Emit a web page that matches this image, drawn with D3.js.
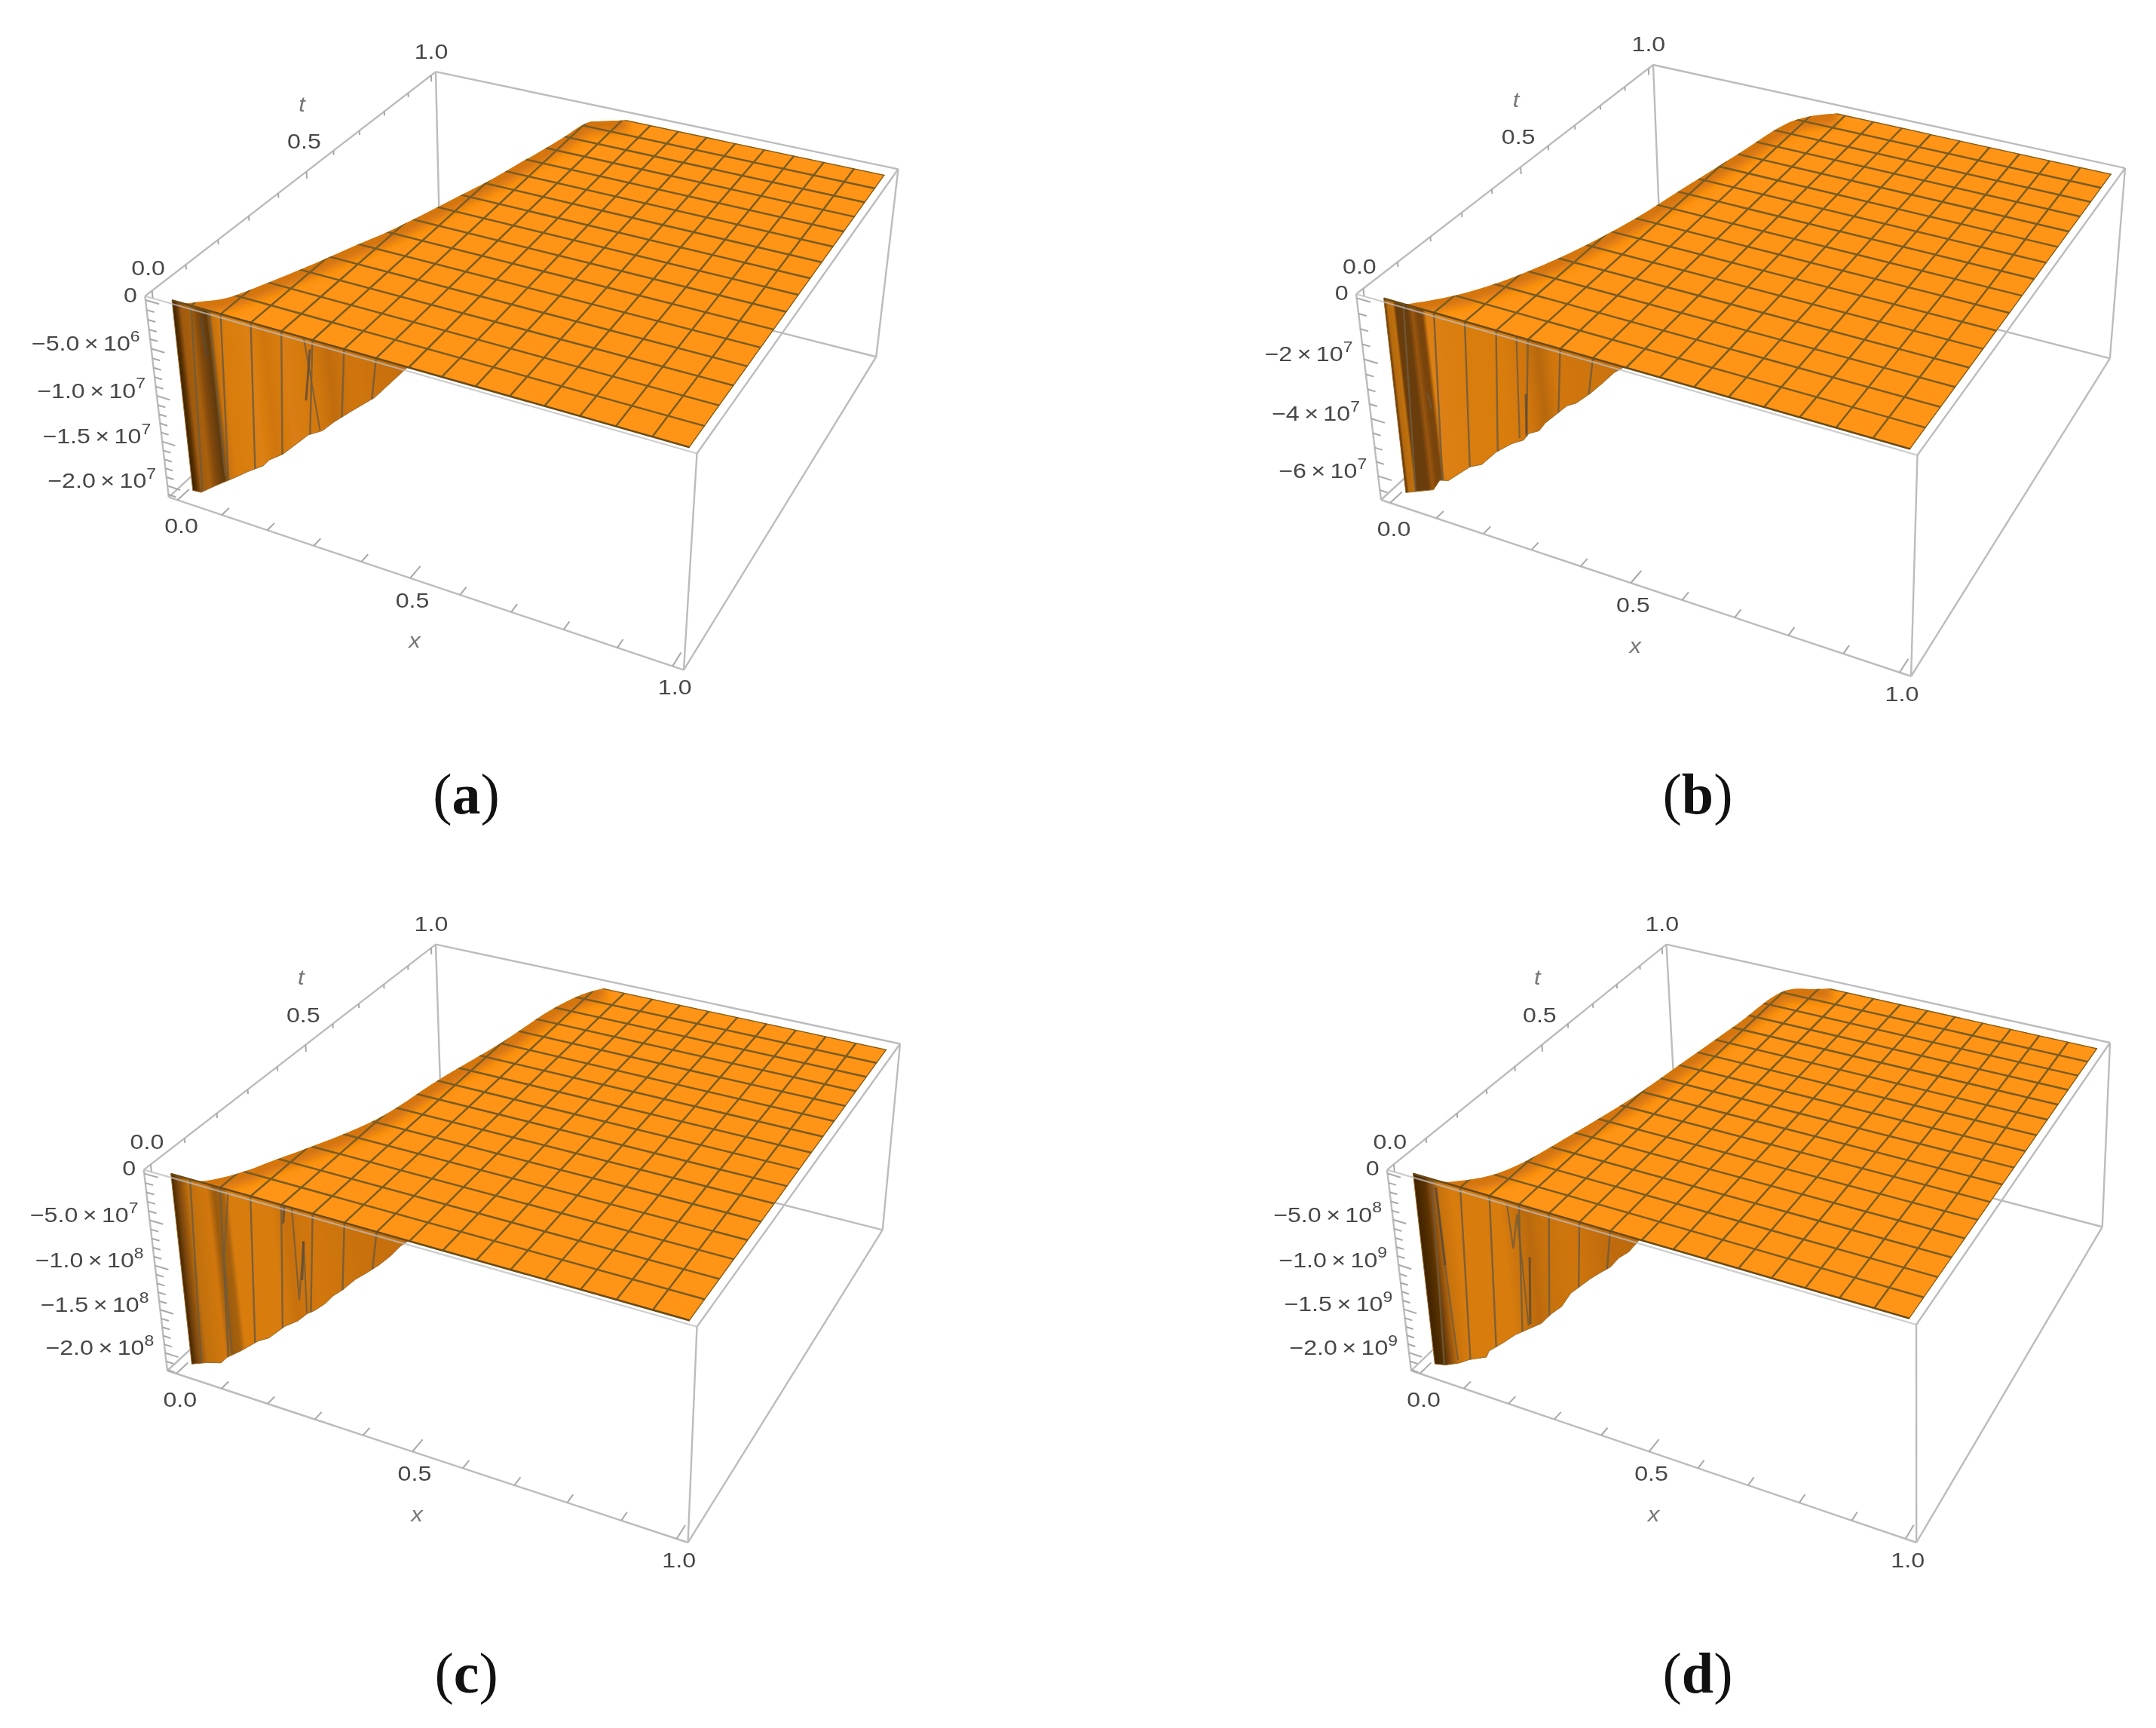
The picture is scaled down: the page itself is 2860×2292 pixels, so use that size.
<!DOCTYPE html>
<html><head><meta charset="utf-8">
<style>html,body{margin:0;padding:0;background:#fff}svg{display:block}</style>
<script src="https://cdnjs.cloudflare.com/ajax/libs/d3/7.8.5/d3.min.js"></script>
</head><body><svg id="c" width="2860" height="2292"></svg>
<script>
// ---------- DATA ----------
const axisTicks = [0, 0.5, 1];
const axisMinor = [0.1, 0.2, 0.3, 0.4, 0.6, 0.7, 0.8, 0.9];
const axisLabels = ["0.0", "0.5", "1.0"];
const meshCount = 16;

const captions = ["a", "b", "c", "d"];

const zDomainA = [4e5, -2.13e7];
const zDomainB = [1.3e6, -6.85e7];
const zDomainC = [4e6, -2.21e8];
const zDomainD = [4e7, -2.21e9];

const zTicksA = [-5e6, -1e7, -1.5e7, -2e7];
const zTicksB = [-2e7, -4e7, -6e7];
const zTicksC = [-5e7, -1e8, -1.5e8, -2e8];
const zTicksD = [-5e8, -1e9, -1.5e9, -2e9];
const zLabelA = [["−5.0","6"],["−1.0","7"],["−1.5","7"],["−2.0","7"]];
const zLabelB = [["−2","7"],["−4","7"],["−6","7"]];
const zLabelC = [["−5.0","7"],["−1.0","8"],["−1.5","8"],["−2.0","8"]];
const zLabelD = [["−5.0","8"],["−1.0","9"],["−1.5","9"],["−2.0","9"]];
const zMinorStepA = 1e6, zMinorStepB = 5e6, zMinorStepC = 1e7, zMinorStepD = 1e8;

// lower edge of the cliff at t = 0
const wallXA = [.022,.041,.075,.119,.153,.188,.203,.233,.266,.291,.321,.346,.381,.431,.498];
const wallZA = [-2.05e7,-2.04e7,-1.91e7,-1.75e7,-1.62e7,-1.50e7,-1.41e7,-1.30e7,-1.13e7,-1.0e7,-.91e7,-.78e7,-.62e7,-.40e7,0];
const wallXB = [.022,.085,.101,.12,.149,.17,.196,.228,.262,.288,.30,.321,.335,.381,.399,.428,.452,.477,.496];
const wallZB = [-6.58e7,-6.14e7,-5.72e7,-5.63e7,-5.2e7,-4.89e7,-4.67e7,-4.09e7,-3.63e7,-3.37e7,-3.09e7,-2.9e7,-2.57e7,-1.78e7,-1.61e7,-1.16e7,-.73e7,-.26e7,0];
const wallXC = [.022,.058,.089,.104,.136,.176,.201,.237,.266,.286,.304,.326,.343,.362,.39,.412,.439,.464,.482,.498];
const wallZC = [-2.13e8,-2.05e8,-2.0e8,-1.91e8,-1.78e8,-1.6e8,-1.52e8,-1.33e8,-1.22e8,-1.11e8,-1.04e8,-.93e8,-.82e8,-.73e8,-.57e8,-.47e8,-.34e8,-.2e8,-.08e8,0];
const wallXD = [.022,.047,.08,.104,.145,.152,.188,.215,.247,.276,.299,.323,.345,.39,.41,.433,.451,.473,.496];
const wallZD = [-2.13e9,-2.1e9,-2.02e9,-1.94e9,-1.84e9,-1.76e9,-1.6e9,-1.47e9,-1.35e9,-1.24e9,-1.1e9,-.98e9,-.8e9,-.57e9,-.48e9,-.38e9,-.26e9,-.16e9,0];

// crest of the surface: x reached at each t
const ridgeTA = [0,0,.019,.049,.117,.213,.308,.374,.435,.499,.565,.631,.709,.786,.868,.954,.974,1];
const ridgeXA = [.022,.045,.071,.104,.137,.177,.212,.238,.257,.275,.293,.312,.329,.346,.362,.378,.404,.447];
const ridgeTB = [0,0,.018,.067,.115,.154,.279,.428,.586,.754,.907,.962,1];
const ridgeXB = [.022,.062,.085,.129,.16,.18,.228,.267,.293,.321,.346,.375,.42];
const ridgeTC = [0,0,.022,.064,.12,.175,.322,.505,.694,.858,.958,1];
const ridgeXC = [.022,.077,.104,.133,.159,.186,.246,.275,.312,.335,.364,.39];
const ridgeTD = [0,0,.016,.054,.11,.249,.41,.582,.766,.947,.983,1];
const ridgeXD = [.022,.082,.11,.15,.178,.212,.245,.267,.29,.313,.369,.40];

// creases on the cliff as [x, z] runs
const foldThinA = [[[.295,0],[.316,-.91e7]],[[.101,0],[.101,-1.75e7]]];
const foldDarkA = [[[.306,-.1e7],[.291,-.64e7]],[[.081,-.1e7],[.086,-.5e7]]];
const foldThinB = [[[.29,0],[.28,-3.35e7]],[[.093,-2.79e7],[.1,-3.28e7]]];
const foldDarkB = [[[.3,-1.8e7],[.295,-3.14e7]]];
const foldThinC = [[[.141,-.03e8],[.119,-.77e8],[.116,-1.85e8]],[[.271,0],[.272,-.98e8],[.29,-.32e8],[.286,-1.1e8]]];
const foldDarkC = [[[.256,0],[.251,-.19e8]],[[.29,-.32e8],[.281,-.75e8]]];
const foldThinD = [[[.07,-.08e9],[.072,-.92e9],[.078,-1.99e9]],[[.224,-.04e9],[.229,-.5e9],[.244,-.11e9],[.247,-1.32e9]]];
const foldDarkD = [[[.07,-.08e9],[.072,-.92e9]],[[.263,-.54e9],[.251,-1.29e9]]];

// shading bands across the cliff
const shadeXA = [.022,.03,.04,.06,.075,.093,.106,.121,.181,.211,.251,.311,.341,.381,.5];
const shadeCA = ["#3d2204","#5c3305","#a05a0b","#a8600c","#80480a","#5f3a10","#c87210","#d87c10","#dc8012","#d0760f","#da7e12","#d27710","#c06c0e","#d07510","#c46e0e"];
const shadeXB = [.02,.022,.028,.04,.045,.07,.08,.09,.1,.108,.18,.25,.3,.33,.36,.5];
const shadeCB = ["#3d2204","#5a3205","#b56a0e","#c0700f","#6b3d08","#6b3d08","#9a560b","#7a4508","#7a4508","#dd8012","#d97d11","#d97d11","#cf7510","#b8680c","#d27710","#c87110"];
const shadeXC = [.02,.034,.056,.096,.111,.131,.141,.226,.256,.306,.406,.506];
const shadeCC = ["#3d2204","#7a4508","#c0700f","#d27710","#9a5a10","#a8620e","#d87c10","#d87c10","#c87110","#d27710","#c87110","#c46e0e"];
const shadeXD = [.02,.046,.076,.106,.206,.266,.296,.356,.426,.506];
const shadeCD = ["#3d2204","#5a3205","#c8720f","#d87c10","#d87c10","#bb6a0d","#c8720f","#cf7510","#c06c0e","#bb690c"];

// ---------- LAYOUT ----------
const frames = [
 {O:[192.4,392.8],X:[924.5,601.5],T:[578,95.2],XT:[1191.5,224.3],Z:[223.9,659.4],XZ:[912,888.6],cap:[618.6,1079]},
 {O:[1799,390],X:[2543.5,603.7],T:[2193,86],XT:[2819,223],Z:[1832,663],XZ:[2533,897],cap:[2252,1079]},
 {O:[190.7,1551.6],X:[924.5,1759.7],T:[578,1252.6],XT:[1194,1384.5],Z:[222,1818],XZ:[914,2046],cap:[618.6,2245]},
 {O:[1840,1551.6],X:[2542,1757],T:[2210.5,1252.6],XT:[2799,1383],Z:[1872,1818],XZ:[2531,2046],cap:[2252,2245]}
];
const panels = [
 {zD:zDomainA,zT:zTicksA,zL:zLabelA,zS:zMinorStepA,wX:wallXA,wZ:wallZA,rT:ridgeTA,rX:ridgeXA,fT:foldThinA,fD:foldDarkA,sX:shadeXA,sC:shadeCA},
 {zD:zDomainB,zT:zTicksB,zL:zLabelB,zS:zMinorStepB,wX:wallXB,wZ:wallZB,rT:ridgeTB,rX:ridgeXB,fT:foldThinB,fD:foldDarkB,sX:shadeXB,sC:shadeCB},
 {zD:zDomainC,zT:zTicksC,zL:zLabelC,zS:zMinorStepC,wX:wallXC,wZ:wallZC,rT:ridgeTC,rX:ridgeXC,fT:foldThinC,fD:foldDarkC,sX:shadeXC,sC:shadeCC},
 {zD:zDomainD,zT:zTicksD,zL:zLabelD,zS:zMinorStepD,wX:wallXD,wZ:wallZD,rT:ridgeTD,rX:ridgeXD,fT:foldThinD,fD:foldDarkD,sX:shadeXD,sC:shadeCD}
];

const GREY="#bcbcbc", TICK="#a8a8a8", TXT="#474747", ORANGE="#ff9412", MESH="#7a5c22";
const FONT="'Liberation Sans',Arial,sans-serif";
const svg=d3.select("#c");
const defs=svg.append("defs");
defs.append("filter").attr("id","soft").attr("x","-5%").attr("y","-5%").attr("width","110%").attr("height","110%")
  .append("feGaussianBlur").attr("stdDeviation",0.7);
defs.append("filter").attr("id","band").attr("x","-20%").attr("y","-20%").attr("width","140%").attr("height","140%")
  .append("feGaussianBlur").attr("stdDeviation",6);

function det3(a,b,c){return a[0]*(b[1]*c[2]-b[2]*c[1])-b[0]*(a[1]*c[2]-a[2]*c[1])+c[0]*(a[1]*b[2]-a[2]*b[1]);}
function camera(f){
  const h=p=>[p[0],p[1],1];
  const O=h(f.O),X=h(f.X),T=h(f.T),XT=h(f.XT),Z=h(f.Z),XZ=h(f.XZ);
  const mXT=XT.map(v=>-v);
  const D=det3(X,T,mXT);
  const wx=det3(O,T,mXT)/D, wt=det3(X,O,mXT)/D;
  const v=[wx*X[0]-O[0],wx*X[1]-O[1],wx-1];
  const wz=(XZ[1]*v[2]-v[1])/(Z[1]-XZ[1]);
  const cx=[0,1,2].map(i=>wx*X[i]-O[i]), ct=[0,1,2].map(i=>wt*T[i]-O[i]), cz=[0,1,2].map(i=>wz*Z[i]-O[i]);
  return (u,w,n)=>{const p=[0,1,2].map(i=>O[i]+u*cx[i]+w*ct[i]+n*cz[i]);return [p[0]/p[2],p[1]/p[2]];};
}
const xs=d3.scaleLinear().domain([-0.02,1.02]).range([0,1]);
const ts=d3.scaleLinear().domain([-0.02,1.02]).range([0,1]);

function label(g,x,y,txt,opt={}){
  const n=g.append("g").attr("transform",`translate(${x},${y}) scale(1.15,1)`);
  return n.append("text").attr("text-anchor",opt.anchor||"middle").attr("dominant-baseline","central")
    .attr("font-family",FONT).attr("font-size",opt.size||28).attr("font-style",opt.italic?"italic":"normal")
    .attr("fill",opt.fill||TXT).text(txt);
}

panels.forEach((pn,idx)=>{
  const f=frames[idx], cam=camera(f);
  const zs=d3.scaleLinear().domain(pn.zD).range([0,1]);
  const P=(x,t,z)=>cam(xs(x),ts(t),zs(z));
  const zTop=pn.zD[0], zBot=pn.zD[1], lo=-0.02;
  const g=svg.append("g").attr("filter","url(#soft)");
  const seg=(a,b,col,w,op)=>g.append("line").attr("x1",a[0]).attr("y1",a[1]).attr("x2",b[0]).attr("y2",b[1])
    .attr("stroke",col).attr("stroke-width",w).attr("stroke-opacity",op==null?1:op);

  // back edges of the box
  const C=(u,w,n)=>cam(u,w,n);
  [[[0,1,0],[0,1,1]],[[0,1,1],[1,1,1]],[[0,0,1],[0,1,1]],[[1,1,0],[1,1,1]],[[0,1,0],[1,1,0]],[[0,0,0],[0,1,0]]]
    .forEach(e=>seg(C(...e[0]),C(...e[1]),GREY,2.4));
  // t axis ticks
  axisTicks.forEach(v=>seg(P(lo,v,zTop),cam(0,ts(v),0.035),TICK,2));
  axisMinor.forEach(v=>seg(P(lo,v,zTop),cam(0,ts(v),0.022),TICK,2));

  // surface
  const ridge=pn.rT.map((t,i)=>P(pn.rX[i],t,0));
  const lineC=d3.line().curve(d3.curveCatmullRom.alpha(0.5));
  const lineL=d3.line();
  const clipId="surf"+idx;
  const surfD=lineC(ridge)+"L"+P(1,1,0).join(",")+"L"+P(1,0,0).join(",")+"Z";
  defs.append("clipPath").attr("id",clipId).append("path").attr("d",surfD);
  g.append("path").attr("d",surfD).attr("fill",ORANGE);
  const sg=g.append("g").attr("clip-path",`url(#${clipId})`);
  sg.append("path").attr("d",lineC(ridge)).attr("fill","none").attr("stroke","#c4690a").attr("stroke-width",30)
    .attr("stroke-opacity",0.75).attr("filter","url(#band)");
  d3.range(0,meshCount+1).forEach(k=>{
    const v=k/meshCount;
    sg.append("path").attr("d",lineL([P(v,0,0),P(v,1,0)])).attr("stroke",MESH).attr("stroke-width",2.5).attr("fill","none");
    sg.append("path").attr("d",lineL([P(0,v,0),P(1,v,0)])).attr("stroke",MESH).attr("stroke-width",2.5).attr("fill","none");
  });

  // cliff at t = 0
  const wallTop=[pn.wX[0],pn.wX[pn.wX.length-1]];
  const wallPts=[P(wallTop[0],0,0),P(wallTop[1],0,0)].concat(pn.wX.map((x,i)=>P(x,0,pn.wZ[i])).reverse());
  const a=P(0,0,0), b=P(0,0,zBot*0.5);
  const len=Math.hypot(b[0]-a[0],b[1]-a[1]);
  const lean=[(b[0]-a[0])/len,(b[1]-a[1])/len];
  const gv=[lean[1],-lean[0]];
  const axisPos=p=>p[0]*gv[0]+p[1]*gv[1];
  const sA=axisPos(P(pn.sX[0],0,0)), sB=axisPos(P(pn.sX[pn.sX.length-1],0,0));
  const gid="wall"+idx;
  const p1=[gv[0]*sA,gv[1]*sA], p2=[gv[0]*sB,gv[1]*sB];
  const grad=defs.append("linearGradient").attr("id",gid).attr("gradientUnits","userSpaceOnUse")
    .attr("x1",p1[0]).attr("y1",p1[1]).attr("x2",p2[0]).attr("y2",p2[1]);
  pn.sX.forEach((x,i)=>grad.append("stop").attr("offset",(axisPos(P(x,0,0))-sA)/(sB-sA)).attr("stop-color",pn.sC[i]));
  g.append("path").attr("d",lineL(wallPts)+"Z").attr("fill",`url(#${gid})`).attr("stroke","#9a6a2a").attr("stroke-width",1);
  const bottomZ=d3.scaleLinear().domain(pn.wX).range(pn.wZ).clamp(true);
  d3.range(1,8).forEach(k=>{
    const top=k/meshCount, bot=top-(k<=5?0.018:0.012);
    if(top>=wallTop[1]) return;
    seg(P(top,0,0),P(bot,0,bottomZ(bot)),"#6e5b3c",2.4,0.85);
  });
  pn.fT.forEach(r=>g.append("path").attr("d",lineL(r.map(q=>P(q[0],0,q[1])))).attr("fill","none").attr("stroke","#6e5b3c").attr("stroke-width",2.2).attr("stroke-opacity",0.8));
  pn.fD.forEach(r=>g.append("path").attr("d",lineL(r.map(q=>P(q[0],0,q[1])))).attr("fill","none").attr("stroke","#5c4a35").attr("stroke-width",3).attr("stroke-opacity",0.8));
  // front edge of the surface
  seg(P(wallTop[0],0,0),P(1,0,0),"#6b4c18",2.4);

  // front edges of the box
  seg(C(0,0,0),C(1,0,0),GREY,2.2,0.75);
  [[[1,0,0],[1,0,1]],[[0,0,1],[1,0,1]],[[1,0,1],[1,1,1]],[[1,0,0],[1,1,0]],[[0,0,0],[0,0,1]]]
    .forEach(e=>seg(C(...e[0]),C(...e[1]),GREY,2.4));

  // x axis ticks
  axisTicks.forEach(v=>seg(P(v,lo,zBot),cam(xs(v),0.035,1),TICK,2));
  axisMinor.forEach(v=>seg(P(v,lo,zBot),cam(xs(v),0.022,1),TICK,2));
  // z axis ticks
  d3.range(0,-zBot,pn.zS).forEach(s=>{
    const major=pn.zT.concat([0]).some(t=>Math.abs(t+s)<pn.zS/2);
    seg(P(lo,lo,-s),cam(major?0.028:0.016,0,zs(-s)),TICK,2);
  });

  // labels
  const lt=[[-5,-30],[-3,-40],[0,-32]];
  axisTicks.forEach((v,i)=>{const p=P(lo,v,zTop);label(g,p[0]+lt[i][0],p[1]+lt[i][1],axisLabels[i]);});
  const lx=[[5,34],[3,29],[3,28]];
  axisTicks.forEach((v,i)=>{const p=P(v,lo,zBot);label(g,p[0]+lx[i][0],p[1]+lx[i][1],axisLabels[i]);});
  const tp=P(lo,0.5,zTop); label(g,tp[0]-6,tp[1]-89,"t",{italic:true,fill:"#777",size:27});
  const xp=P(0.5,lo,zBot); label(g,xp[0]+6,xp[1]+83,"x",{italic:true,fill:"#777",size:27});
  const zp=P(lo,lo,0); label(g,zp[0]-20,zp[1]-7,"0");
  pn.zT.forEach((z,i)=>{
    const p=P(lo,lo,z);
    const t=label(g,p[0]-15,p[1]-7,pn.zL[i][0]+"\u2009×\u200910",{anchor:"end"});
    t.append("tspan").attr("font-size",20).attr("dy",-10).text(pn.zL[i][1]);
  });

  // caption
  const cap=svg.append("text").attr("x",f.cap[0]).attr("y",f.cap[1]).attr("text-anchor","middle")
    .attr("font-family","'Liberation Serif',serif").attr("font-size",76).attr("fill","#111");
  cap.append("tspan").text("(");
  cap.append("tspan").attr("font-weight","bold").text(captions[idx]);
  cap.append("tspan").text(")");
});
</script></body></html>
